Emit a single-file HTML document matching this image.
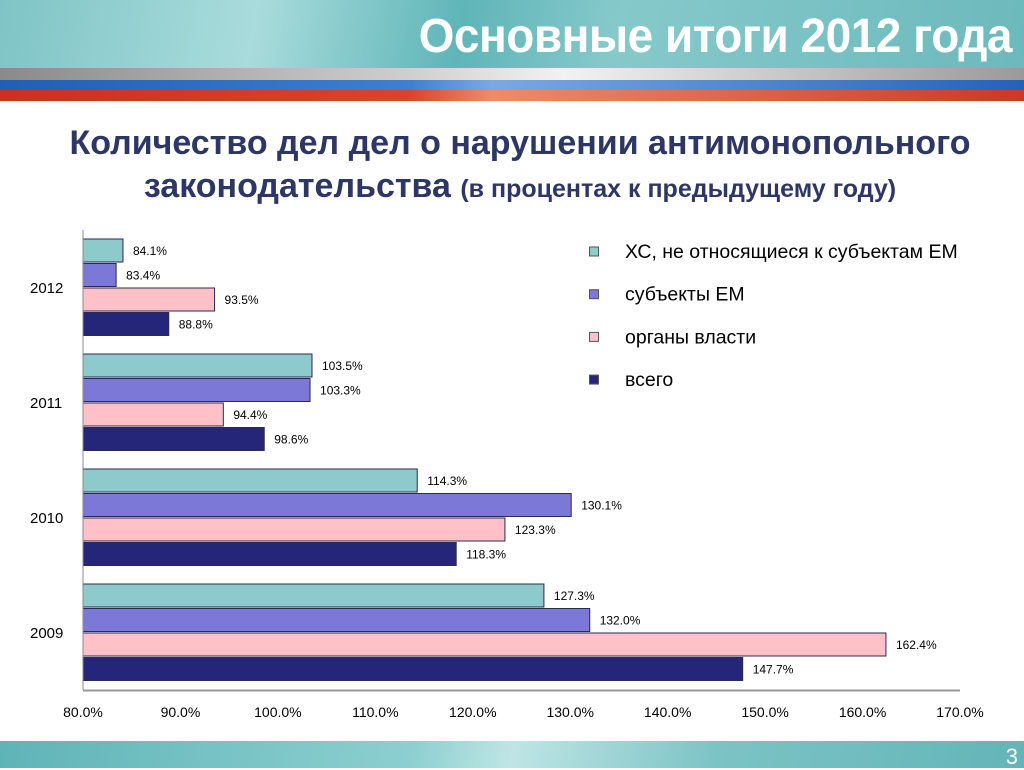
<!DOCTYPE html>
<html><head><meta charset="utf-8">
<style>
body{margin:0;width:1024px;height:768px;overflow:hidden;background:#fff;font-family:"Liberation Sans","Noto Sans CJK SC",sans-serif;position:relative}
.hdr{position:absolute;left:0;top:0;width:1024px;height:68px;background:linear-gradient(100deg,#7fc4c6 0%,#a9dcdc 25%,#5fb5b8 45%,#86c9cb 60%,#6cb9bc 100%)}
.t{position:absolute;right:12px;top:8px;color:#fff;font-size:46px;font-weight:bold;letter-spacing:-0.5px;font-family:"Liberation Sans",sans-serif;transform:scaleY(1.05)}
.s1{position:absolute;top:68px;left:0;width:1024px;height:12px;background:linear-gradient(90deg,#8a8a8a,#cfcfcf 40%,#f2f2f2 55%,#9a9a9a 100%)}
.s2{position:absolute;top:80px;left:0;width:1024px;height:10px;background:linear-gradient(90deg,#1f5fb5,#3d7fd0 40%,#7aa9e3 48%,#2462b8 100%)}
.s3{position:absolute;top:90px;left:0;width:1024px;height:11px;background:linear-gradient(90deg,#c8321e,#d8452a 40%,#f08a6a 48%,#c93a22 100%)}
.ftr{position:absolute;left:0;top:741px;width:1024px;height:27px;background:linear-gradient(100deg,#5fb4b7 0%,#8ccfd0 40%,#bfe5e5 50%,#7cc3c5 70%,#63b5b8 100%)}
.pg{position:absolute;right:6px;top:744px;color:#fff;font-size:22px}
.ttl{position:absolute;left:0;width:1040px;text-align:center;color:#2c3766;font-weight:bold;font-family:"Liberation Sans",sans-serif;white-space:nowrap}
</style></head><body>
<div class="hdr"><div class="t">Основные итоги 2012 года</div></div>
<div class="s1"></div>
<div class="s2"></div>
<div class="s3"></div>
<div class="ttl" style="top:124px;font-size:34px">Количество дел дел о нарушении антимонопольного</div>
<div class="ttl" style="top:167px;font-size:34px">законодательства <span style="font-size:25px">(в процентах к предыдущему году)</span></div>
<svg id="ch" width="1024" height="768" style="position:absolute;left:0;top:0"></svg>
<div class="ftr"></div>
<div class="pg">3</div>
<script>
const years=["2012","2011","2010","2009"];
const seriesNames=["ХС, не относящиеся к субъектам ЕМ","субъекты ЕМ","органы власти","всего"];
const hc=[84.1,103.5,114.3,127.3];
const em=[83.4,103.3,130.1,132.0];
const gov=[93.5,94.4,123.3,162.4];
const total=[88.8,98.6,118.3,147.7];
const ticks=[80,90,100,110,120,130,140,150,160,170];
const series=[hc,em,gov,total];
const colors=["#8ccacc","#7b78d8","#ffc0c8","#25257a"];
const svg=document.getElementById('ch');
const NS="http://www.w3.org/2000/svg";
const x0=83,x1=960,vmin=80,vmax=170,plotTop=230,catH=115;
const X=v=>x0+(v-vmin)/(vmax-vmin)*(x1-x0);
function mk(t,a){const e=document.createElementNS(NS,t);for(const k in a)e.setAttribute(k,a[k]);svg.appendChild(e);return e;}
years.forEach((y,i)=>{
  const cy=plotTop+i*catH;
  const lab=mk('text',{x:30,y:cy+63,'font-size':15,fill:'#000','font-family':'Liberation Sans'});lab.textContent=y;
  
  
  series.forEach((s,j)=>{
    const by=cy+9+j*24.5;
    const r=mk('rect',{x:x0,y:by,width:X(s[i])-x0,height:23,fill:colors[j],stroke:'#2a2a55','stroke-width':1});
    
    
    const t=mk('text',{x:X(s[i])+10,y:by+16,'font-size':12,fill:'#000','font-family':'Liberation Sans'});t.textContent=s[i].toFixed(1)+'%';
    
    
  });
});
const ax=mk('line',{x1:x0,y1:plotTop,x2:x0,y2:690,stroke:'#888','stroke-width':1});


const bx=mk('line',{x1:x0,y1:690.5,x2:x1,y2:690.5,stroke:'#999','stroke-width':2});


ticks.forEach(v=>{
  const t=mk('text',{x:X(v),y:717,'font-size':14,'text-anchor':'middle',fill:'#000','font-family':'Liberation Sans'});t.textContent=v.toFixed(1)+'%';
  
  
});
seriesNames.forEach((n,j)=>{
  const ly=247+j*42.7;
  const r=mk('rect',{x:589.5,y:ly,width:9,height:9,fill:colors[j],stroke:'#555','stroke-width':1});
  
  
  const t=mk('text',{x:625,y:ly+11,'font-size':19.5,fill:'#000','font-family':'Liberation Sans'});t.textContent=n;
  
  
});
</script>
</body></html>
